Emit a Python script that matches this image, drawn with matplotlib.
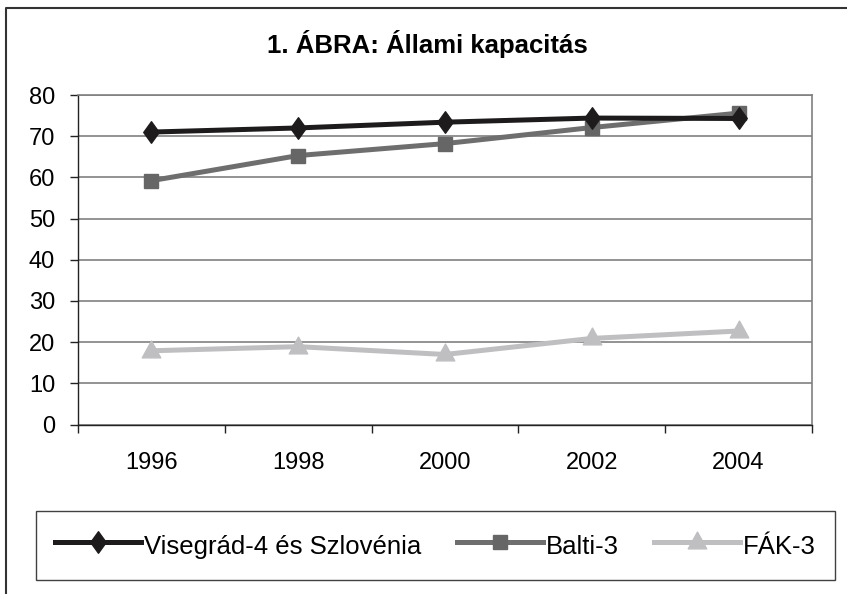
import matplotlib
matplotlib.use("Agg")
import matplotlib.pyplot as plt
from matplotlib.lines import Line2D
from matplotlib.path import Path
import numpy as np

years = ["1996", "1998", "2000", "2002", "2004"]
visegrad = [71.0, 72.0, 73.4, 74.4, 74.3]
balti = [59.2, 65.3, 68.2, 72.1, 75.6]
fak = [17.9, 18.9, 17.0, 20.9, 22.7]
yticks = [0, 10, 20, 30, 40, 50, 60, 70, 80]

title = "1. ÁBRA: Állami kapacitás"
labels = ["Visegrád-4 és Szlovénia", "Balti-3", "FÁK-3"]

plt.rcParams['font.family'] = ['Liberation Sans', 'DejaVu Sans']

W, H = 847, 594
fig = plt.figure(figsize=(W / 100, H / 100), dpi=100)

L, R, T, B = 78, 812, 95, 424.5
ax = fig.add_axes([L / W, 1 - B / H, (R - L) / W, (B - T) / H])

diamond = Path([(0, 1), (0.72, 0), (0, -1), (-0.72, 0), (0, 1)],
               [Path.MOVETO, Path.LINETO, Path.LINETO, Path.LINETO, Path.CLOSEPOLY])
triangle = Path([(0, 0.62), (0.55, -0.38), (-0.55, -0.38), (0, 0.62)],
                [Path.MOVETO, Path.LINETO, Path.LINETO, Path.CLOSEPOLY])

x = np.arange(len(years))
lw = 3.6
ax.plot(x, visegrad, color="#1e1b1c", lw=lw, marker=diamond, ms=15.5,
        mfc="#1e1b1c", mec="#1e1b1c", label=labels[0], zorder=5)
ax.plot(x, balti, color="#6e6e6e", lw=lw, marker="s", ms=10,
        mfc="#666666", mec="#666666", label=labels[1], zorder=4)
ax.plot(x, fak, color="#bfbfc2", lw=lw, marker=triangle, ms=15,
        mfc="#bfbfc2", mec="#bfbfc2", label=labels[2], zorder=3)

ax.set_xlim(-0.5, len(years) - 0.5)
ax.set_ylim(0, 80)
ax.set_yticks(yticks)
ax.set_yticklabels([str(v) for v in yticks])
ax.yaxis.grid(True, color="#808080", lw=1.2)
ax.set_axisbelow(True)

ax.set_xticks(np.arange(-0.5, len(years), 1.0))
ax.set_xticklabels([])
ax.set_xticks(x, minor=True)
ax.set_xticklabels(years, minor=True)
ax.tick_params(axis="x", which="major", direction="out", length=6, width=1, color="#222222")
ax.tick_params(axis="x", which="minor", length=0, pad=19.5, labelsize=17)
ax.tick_params(axis="y", direction="out", length=6, width=1, color="#222222",
               pad=10.5, labelsize=17)

for s in ["top", "right"]:
    ax.spines[s].set_color("#808080")
    ax.spines[s].set_linewidth(1.2)
for s in ["left", "bottom"]:
    ax.spines[s].set_color("#222222")
    ax.spines[s].set_linewidth(1.0)

fig.text(427.5 / W, 1 - 53 / H, title, ha="center", va="baseline",
         fontsize=18.5, fontweight="bold")

fs = 18.5
leg = fig.legend(loc="center", bbox_to_anchor=(435.5 / W, 1 - 545.5 / H), ncol=3,
                 fontsize=fs, frameon=True, fancybox=False, edgecolor="#111111",
                 handlelength=62 / fs, handletextpad=0.12, columnspacing=25.2 / fs,
                 handleheight=1.45, borderpad=13.7 / fs, borderaxespad=0)
leg.get_frame().set_linewidth(1.0)

# outer chart border (left and top visible)
fig.add_artist(Line2D([6 / W, 6 / W, 1.0], [0, 1 - 8 / H, 1 - 8 / H],
                      transform=fig.transFigure, color="#333333", lw=1.5))

fig.savefig("out.png", dpi=100, facecolor="white")
